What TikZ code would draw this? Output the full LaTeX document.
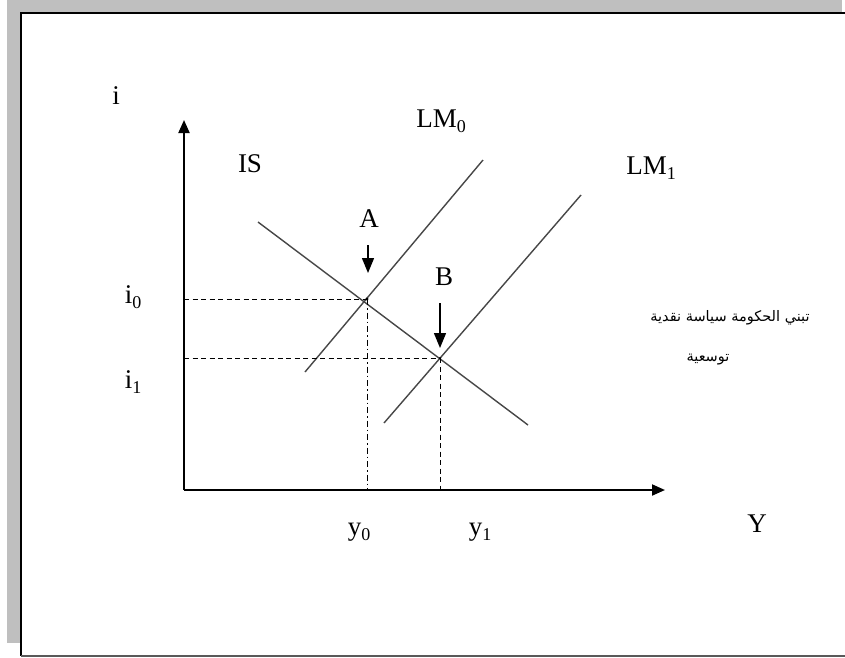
\documentclass[tikz,border=0pt]{standalone}
\usepackage{fontspec}
\setmainfont{Liberation Serif}
\newfontfamily\arabicfont[Script=Arabic]{DejaVu Sans}
\TeXXeTstate=1
\usetikzlibrary{arrows.meta}
\newcommand\sbs[1]{\raisebox{-0.2em}{\fontsize{18}{20}\selectfont #1}}
\begin{document}
\begin{tikzpicture}[x=1pt,y=-1pt,
  lbl/.style={inner sep=0pt,anchor=base,font=\fontsize{27}{32}\selectfont},
  curve/.style={draw=black!72,line width=1.4pt},
  axis/.style={draw=black,line width=2pt,-{Triangle[length=13pt,width=11pt]}},
  guide/.style={draw=black,line width=1pt,dash pattern=on 5pt off 3.5pt},
  guidedot/.style={draw=black,line width=1pt,dash pattern=on 6pt off 3pt on 1.5pt off 3pt},
  pointer/.style={draw=black,line width=1.4pt,-{Triangle[length=15pt,width=12pt]}},
  artext/.style={inner sep=0pt,font=\arabicfont\fontsize{14.5}{17}\selectfont}]
\useasboundingbox (0,0) rectangle (845,657);
% frame
\fill[white] (0,0) rectangle (845,657);
\fill[black!25] (7,0) rectangle (842,643);
\fill[white] (21,13) rectangle (845,657);
\draw[black,line width=2.2pt] (845,13) -- (21,13) -- (21,656);
\draw[black!65,line width=2pt] (21,656) -- (845,656);
% coordinates
\coordinate (O) at (184,490);
\coordinate (ytop) at (184,120);
\coordinate (xend) at (665,490);
\coordinate (is1) at (258,222);
\coordinate (is2) at (528,425);
\coordinate (lm0a) at (305,372);
\coordinate (lm0b) at (483,160);
\coordinate (lm1a) at (384,423);
\coordinate (lm1b) at (581,195);
\coordinate (A) at (367,299);
\coordinate (B) at (440,358);
\coordinate (i0ax) at (184,299);
\coordinate (i1ax) at (184,358);
\coordinate (y0ax) at (367,490);
\coordinate (y1ax) at (440,490);
\coordinate (atop) at (368,245);
\coordinate (atip) at (368,273);
\coordinate (btop) at (440,303);
\coordinate (btip) at (440,348);
% axes
\draw[axis] (O) -- (ytop);
\draw[axis] (O) -- (xend);
% curves
\draw[curve] (is1) -- (is2);
\draw[curve] (lm0a) -- (lm0b);
\draw[curve] (lm1a) -- (lm1b);
% guides
\draw[guide] (i0ax) -- (A);
\draw[guide] (i1ax) -- (B);
\draw[guidedot] (A) -- (y0ax);
\draw[guide] (B) -- (y1ax);
\fill (A) circle (1.6pt);
\fill (B) circle (1.2pt);
% pointers
\draw[pointer] (atop) -- (atip);
\draw[pointer] (btop) -- (btip);
% labels
\node[lbl] (li) at (116,104) {i};
\node[lbl] (lis) at (250,172) {IS};
\node[lbl] (llm0) at (441,127) {LM\sbs{0}};
\node[lbl] (llm1) at (651,174) {LM\sbs{1}};
\node[lbl] (la) at (369,227) {A};
\node[lbl] (lb) at (444,285) {B};
\node[lbl] (li0) at (133,303) {i\sbs{0}};
\node[lbl] (li1) at (133,388) {i\sbs{1}};
\node[lbl] (ly0) at (359,535) {y\sbs{0}};
\node[lbl] (ly1) at (480,535) {y\sbs{1}};
\node[lbl] (lY) at (757,532) {Y};
\node[artext] (ar1) at (730,318) {\beginR تبني الحكومة سياسة نقدية\endR};
\node[artext] (ar2) at (708,360) {\beginR توسعية\endR};
\end{tikzpicture}
\end{document}
